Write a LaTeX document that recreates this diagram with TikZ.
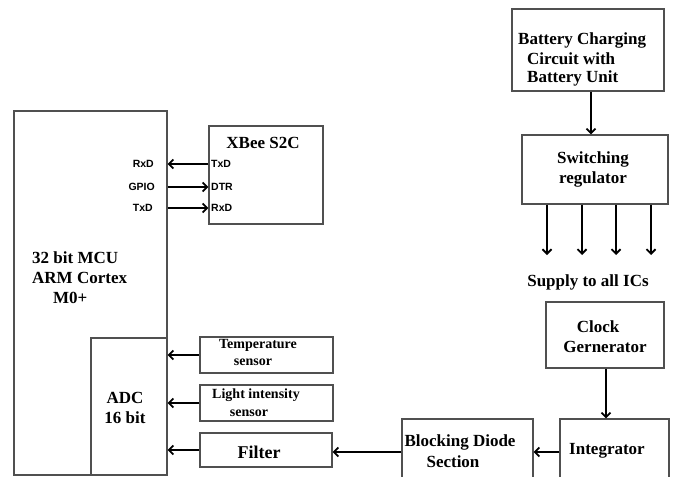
\documentclass[tikz,border=0pt]{standalone}
\usepackage{fontspec}
\setmainfont{Liberation Serif}
\newfontfamily\pinfont{Liberation Sans}
\usetikzlibrary{arrows.meta}
\definecolor{boxgray}{HTML}{505050}
\tikzset{
  blk/.style={draw=boxgray, line width=1.1pt, inner sep=0pt, rectangle},
  arr/.style={line width=1.8pt, -{Straight Barb[length=4.5pt,width=9pt]}},
  ttl/.style={font=\bfseries\fontsize{17}{20}\selectfont, inner sep=0pt, align=center},
  sml/.style={font=\bfseries\fontsize{14}{17}\selectfont, inner sep=0pt, align=center},
  pin/.style={font=\pinfont\bfseries\fontsize{10.5}{12}\selectfont, inner sep=0pt},
}
\begin{document}
\begin{tikzpicture}[x=1pt,y=-1pt]
\useasboundingbox (0,0) rectangle (673,477);
\clip (0,0) rectangle (673,477);
% MCU
\node[blk, minimum width=153pt, minimum height=364pt] (mcu) at (90.5,293) {};
\node[blk, minimum width=76pt, minimum height=137pt] (adc) at (129,406.5) {};
\node[ttl, anchor=west, align=left] (mcut) at (32,278) {32 bit MCU\\ARM Cortex\\\hspace*{21pt}M0+};
\node[ttl] (adct) at (125,407.5) {ADC\\16 bit};
% XBee
\node[blk, minimum width=114pt, minimum height=98pt] (xbee) at (266,175) {};
\node[ttl] (xbeet) at (263,143) {XBee S2C};
\node[pin, anchor=west] (xtx) at (211,164) {TxD};
\node[pin, anchor=west] (xdtr) at (211,187) {DTR};
\node[pin, anchor=west] (xrx) at (211,208) {RxD};
\node[pin, anchor=east] (mrx) at (154,164) {RxD};
\node[pin, anchor=east] (mgpio) at (155,187) {GPIO};
\node[pin, anchor=east] (mtx) at (153,208) {TxD};
\draw[arr] (xbee.west |- xtx) -- (mcu.east |- xtx);
\draw[arr] (mcu.east |- xdtr) -- (xbee.west |- xdtr);
\draw[arr] (mcu.east |- xrx) -- (xbee.west |- xrx);
% sensors
\node[blk, minimum width=133pt, minimum height=36pt] (temp) at (266.5,355) {};
\node[sml] (tempt1) at (258,345) {Temperature};
\node[sml] (tempt2) at (253,362) {sensor};
\node[blk, minimum width=133pt, minimum height=36pt] (light) at (266.5,403) {};
\node[sml] (lightt1) at (256,395) {Light intensity};
\node[sml] (lightt2) at (249,413) {sensor};
\node[blk, minimum width=132pt, minimum height=34pt] (filter) at (266,450) {};
\node[font=\bfseries\fontsize{18}{20}\selectfont, inner sep=0pt] (filtert) at (259,452) {Filter};
\draw[arr] (temp.west) -- (mcu.east |- temp.west);
\draw[arr] (light.west) -- (mcu.east |- light.west);
\draw[arr] (filter.west) -- (mcu.east |- filter.west);
% blocking diode and integrator
\node[blk, minimum width=131pt, minimum height=66pt] (bd) at (467.5,452) {};
\node[ttl] (bdt1) at (460,442) {Blocking Diode};
\node[ttl] (bdt2) at (453,462) {Section};
\node[blk, minimum width=109pt, minimum height=66pt] (integ) at (614.5,452) {};
\node[ttl] (integt) at (607,451) {Integrator};
\draw[arr] (integ.west) -- (bd.east);
\draw[arr] (bd.west) -- (filter.east |- bd.west);
% clock
\node[blk, minimum width=118pt, minimum height=66pt] (clk) at (605,335) {};
\node[ttl] (clkt1) at (598,327) {Clock};
\node[ttl] (clkt2) at (605,347) {Gernerator};
\draw[arr] ([xshift=1pt]clk.south) -- ([xshift=1pt]clk.south |- integ.north);
% battery
\node[blk, minimum width=152pt, minimum height=82pt] (bat) at (588,50) {};
\node[ttl, anchor=west] (batt1) at (518,40) {Battery Charging};
\node[ttl, anchor=west] (batt2) at (527,59) {Circuit with};
\node[ttl, anchor=west] (batt3) at (527,78) {Battery Unit};
% switching regulator
\node[blk, minimum width=146pt, minimum height=69pt] (sw) at (595,169.5) {};
\node[ttl] (swt) at (593,169) {Switching\\regulator};
\draw[arr] ([xshift=3pt]bat.south) -- ([xshift=3pt]bat.south |- sw.north);
\coordinate (s1) at (547,255);
\coordinate (s2) at (582,255);
\coordinate (s3) at (616,255);
\coordinate (s4) at (651,255);
\foreach \s in {s1,s2,s3,s4} \draw[arr] (sw.south -| \s) -- (\s);
\node[ttl] (supply) at (588,282) {Supply to all ICs};
\end{tikzpicture}
\end{document}
